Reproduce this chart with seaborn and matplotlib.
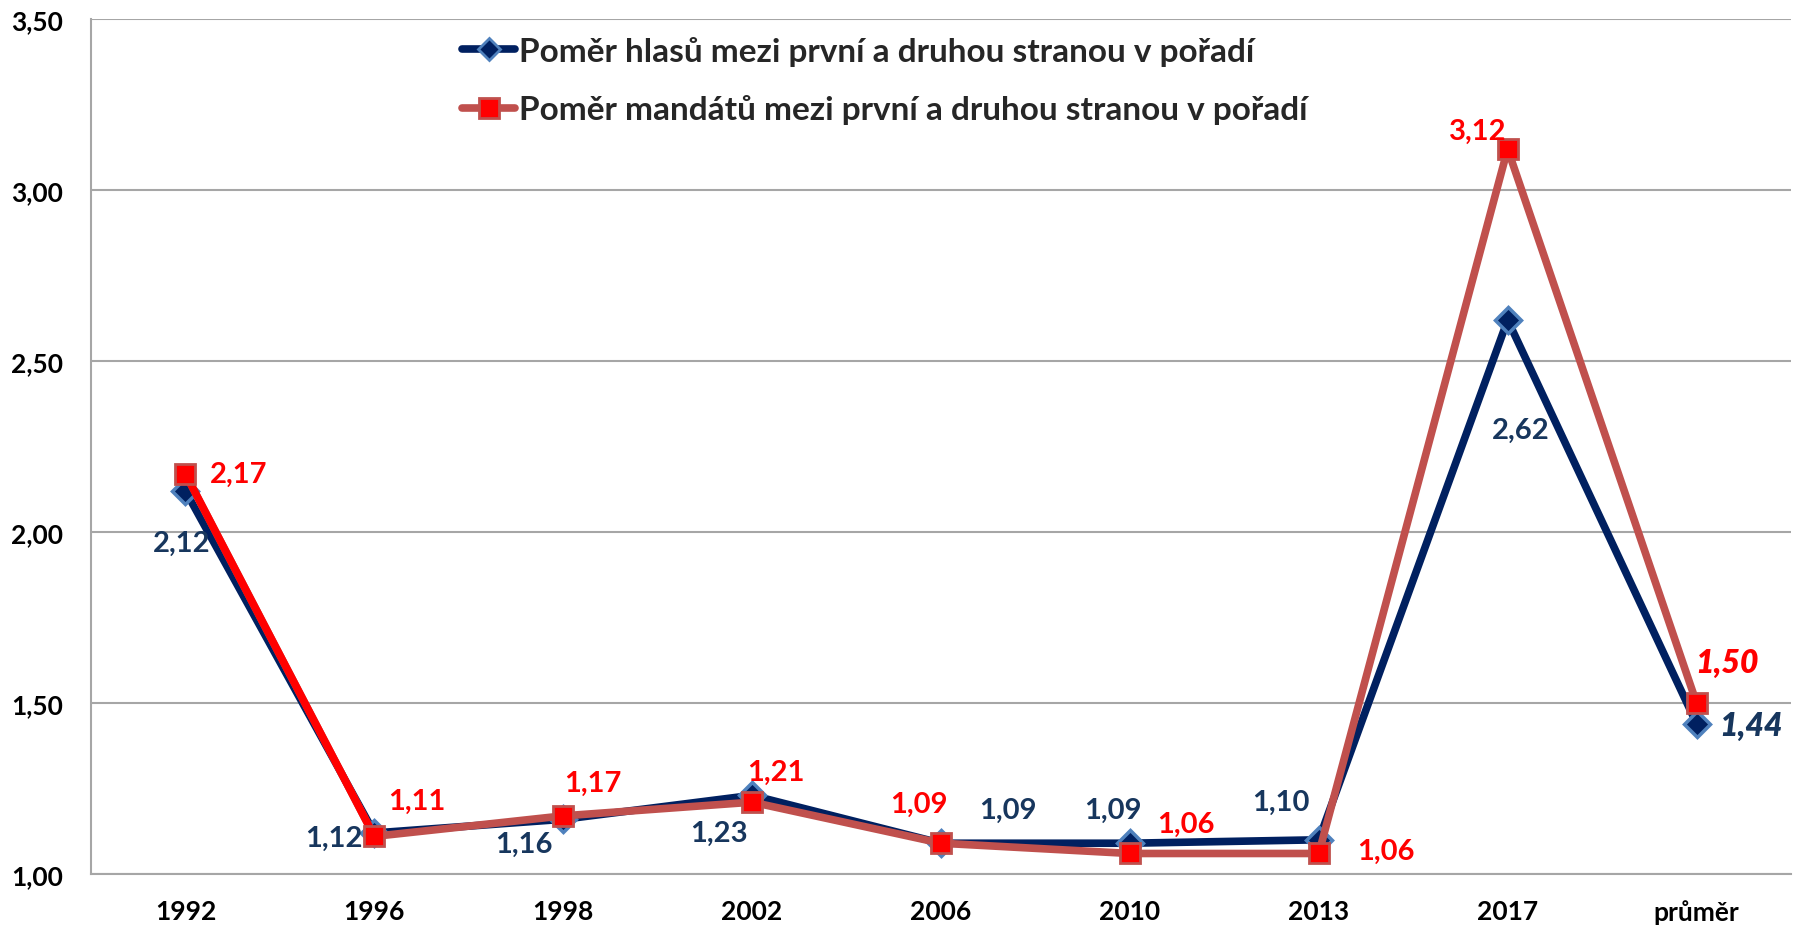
import matplotlib
matplotlib.use("Agg")
import matplotlib.pyplot as plt
from matplotlib.lines import Line2D
import seaborn as sns

# ---- data ----
categories = ["1992", "1996", "1998", "2002", "2006", "2010", "2013", "2017", "průměr"]
votes_ratio = [2.12, 1.12, 1.16, 1.23, 1.09, 1.09, 1.10, 2.62, 1.44]
seats_ratio = [2.17, 1.11, 1.17, 1.21, 1.09, 1.06, 1.06, 3.12, 1.50]
votes_label = "Poměr hlasů mezi první a druhou stranou v pořadí"
seats_label = "Poměr mandátů mezi první a druhou stranou v pořadí"
y_ticks = [1.0, 1.5, 2.0, 2.5, 3.0, 3.5]

# ---- styles ----
NAVY = "#002060"
NAVY_TXT = "#17365D"
EDGE_BLUE = "#4F81BD"
RED_LINE = "#C0504D"
RED = "#FF0000"
GRID = "#A6A6A6"

# label offsets in pixels (dx, dy-down)
votes_offsets = [(-4, 52), (-40, 5), (-39, 25), (-33, 38), (67, -33), (-17, -33), (-38, -38), (13, 110), (54, 2)]
seats_offsets = [(53, 0), (42, -36), (30, -33), (24, -30), (-22, -39), (56, -30), (67, -3), (-30, -18), (30, -41)]

sns.set_theme(style="white")
plt.rcParams['font.family'] = ['Lato', 'DejaVu Sans']
plt.rcParams['font.weight'] = 'bold'

W, H = 1795, 929
fig = plt.figure(figsize=(W / 100, H / 100), dpi=100)
ax = fig.add_axes([91 / W, 1 - 875 / H, 1700 / W, 855 / H])

# blue series
sns.lineplot(x=categories, y=votes_ratio, ax=ax, sort=False, color=NAVY, lw=5.5,
             marker="D", markersize=13, markerfacecolor=NAVY,
             markeredgecolor=EDGE_BLUE, markeredgewidth=2.5, zorder=3)
# red series line
sns.lineplot(x=categories, y=seats_ratio, ax=ax, sort=False, color=RED_LINE, lw=5.5, zorder=4)
# first segment in pure red
sns.lineplot(x=categories[:2], y=seats_ratio[:2], ax=ax, sort=False, color=RED, lw=5.5, zorder=5)
# red markers
sns.lineplot(x=categories, y=seats_ratio, ax=ax, sort=False, color=RED_LINE, lw=0,
             marker="s", markersize=15, markerfacecolor=RED,
             markeredgecolor=RED_LINE, markeredgewidth=2, zorder=6)

ax.set_xlim(-0.5, len(categories) - 0.5)
ax.set_ylim(y_ticks[0], y_ticks[-1])
ax.set_yticks(y_ticks)
ax.set_yticklabels([f"{t:.2f}".replace(".", ",") for t in y_ticks])
ax.set_xlabel("")
ax.set_ylabel("")

ax.yaxis.grid(True, color=GRID, lw=1.5)
ax.xaxis.grid(False)
ax.set_axisbelow(True)
for s in ["top", "right"]:
    ax.spines[s].set_visible(False)
for s in ["left", "bottom"]:
    ax.spines[s].set_color(GRID)
    ax.spines[s].set_linewidth(1.5)
ax.tick_params(axis="both", length=0, labelsize=19, labelcolor="black")
ax.tick_params(axis="y", pad=20)
ax.tick_params(axis="x", pad=18)
for lab in ax.get_xticklabels() + ax.get_yticklabels():
    lab.set_fontweight("bold")

# data labels
n = len(categories)
for i, (v, (dx, dy)) in enumerate(zip(votes_ratio, votes_offsets)):
    last = i == n - 1
    ax.annotate(f"{v:.2f}".replace(".", ","), (i, v), xytext=(dx, -dy),
                textcoords="offset pixels", ha="center", va="center",
                color=NAVY_TXT, fontsize=23 if last else 21,
                fontweight="heavy" if last else "bold",
                fontstyle="italic" if last else "normal", zorder=10)
for i, (v, (dx, dy)) in enumerate(zip(seats_ratio, seats_offsets)):
    last = i == n - 1
    ax.annotate(f"{v:.2f}".replace(".", ","), (i, v), xytext=(dx, -dy),
                textcoords="offset pixels", ha="center", va="center",
                color=RED, fontsize=23 if last else 21,
                fontweight="heavy" if last else "bold",
                fontstyle="italic" if last else "normal", zorder=10)

handles = [
    Line2D([], [], color=NAVY, lw=5.5, marker="D", markersize=11, markerfacecolor=NAVY,
           markeredgecolor=EDGE_BLUE, markeredgewidth=2),
    Line2D([], [], color=RED_LINE, lw=5.5, marker="s", markersize=15, markerfacecolor=RED,
           markeredgecolor=RED_LINE, markeredgewidth=2),
]
fig.legend(handles, [votes_label, seats_label], loc="center left",
           bbox_to_anchor=(462 / W, 1 - 81 / H), frameon=False,
           prop={"size": 24, "weight": "bold"}, handlelength=1.6,
           handletextpad=0.1, labelspacing=0.85, borderpad=0, borderaxespad=0)

fig.savefig("out.png", dpi=100, facecolor="white")
